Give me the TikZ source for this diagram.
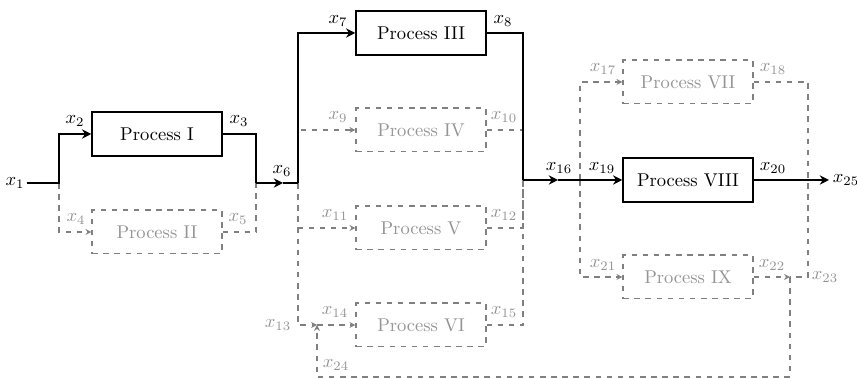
\documentclass[tikz,border=0pt]{standalone}
\usetikzlibrary{arrows.meta}
\begin{document}
\begin{tikzpicture}[x=0.54pt,y=-0.54pt,
  proc/.style={draw, line width=1pt, minimum width=70pt, minimum height=23.5pt, inner sep=0pt},
  gproc/.style={draw=gray, dashed, thick, text=black!42, minimum width=70pt, minimum height=23.5pt, inner sep=0pt},
  main/.style={line width=1.1pt},
  aux/.style={gray, dashed, thick},
  marr/.style={-{Stealth[length=5pt,width=5pt]}},
  garr/.style={-{Stealth[length=3.2pt,width=3.2pt]}},
  lab/.style={inner sep=1pt},
  glab/.style={inner sep=1pt, text=black!42}]
\useasboundingbox (0,0) rectangle (857,378);

% process boxes
\node[proc]  (P1) at (157,134) {Process I};
\node[gproc] (P2) at (157,232) {Process II};
\node[proc]  (P3) at (421,33)  {Process III};
\node[gproc] (P4) at (421,130) {Process IV};
\node[gproc] (P5) at (421,228) {Process V};
\node[gproc] (P6) at (421,325) {Process VI};
\node[gproc] (P7) at (688,82)  {Process VII};
\node[proc]  (P8) at (688,180) {Process VIII};
\node[gproc] (P9) at (688,277) {Process IX};

% labels
\node[lab]  (x1)  at (15,183)  {$x_1$};
\node[lab]  (x2)  at (75,121)  {$x_2$};
\node[lab]  (x3)  at (239,121) {$x_3$};
\node[glab] (x4)  at (76,219)  {$x_4$};
\node[glab] (x5)  at (238,219) {$x_5$};
\node[lab]  (x6)  at (282,171) {$x_6$};
\node[lab]  (x7)  at (338,21)  {$x_7$};
\node[lab]  (x8)  at (503,21)  {$x_8$};
\node[glab] (x9)  at (338,117) {$x_9$};
\node[glab] (x10) at (504,117) {$x_{10}$};
\node[glab] (x11) at (335,215) {$x_{11}$};
\node[glab] (x12) at (504,215) {$x_{12}$};
\node[glab] (x13) at (278,325) {$x_{13}$};
\node[glab] (x14) at (335,312) {$x_{14}$};
\node[glab] (x15) at (504,312) {$x_{15}$};
\node[lab]  (x16) at (559,168) {$x_{16}$};
\node[glab] (x17) at (603,69)  {$x_{17}$};
\node[glab] (x18) at (773,69)  {$x_{18}$};
\node[lab]  (x19) at (602,168) {$x_{19}$};
\node[lab]  (x20) at (773,168) {$x_{20}$};
\node[glab] (x21) at (603,265) {$x_{21}$};
\node[glab] (x22) at (772,265) {$x_{22}$};
\node[glab] (x23) at (825,277) {$x_{23}$};
\node[glab] (x24) at (336,365) {$x_{24}$};
\node[lab]  (x25) at (846,180) {$x_{25}$};

% junction coordinates
\coordinate (s1)  at (59,183);
\coordinate (m1)  at (256,183);
\coordinate (c6)  at (283,183);
\coordinate (s2)  at (298,183);
\coordinate (c13) at (317,325);
\coordinate (m2)  at (523,180);
\coordinate (c16) at (558,180);
\coordinate (s3)  at (580,180);
\coordinate (c23) at (808,277);
\coordinate (j22) at (790,277);
\coordinate (b1)  at (790,377);
\coordinate (c25) at (829,180);

% auxiliary (dashed) paths
\draw[aux,garr] (s1) |- (P2.west);
\draw[aux] (P2.east) -| (m1);
\draw[aux,garr] (s2) |- (P4.west);
\draw[aux,garr] (s2) |- (P5.west);
\draw[aux,garr] (s2) |- (c13);
\draw[aux,garr] (c13) -- (P6.west);
\draw[aux] (P4.east) -| (m2);
\draw[aux] (P5.east) -| (m2);
\draw[aux] (P6.east) -| (m2);
\draw[aux,garr] (s3) |- (P7.west);
\draw[aux,garr] (s3) |- (P9.west);
\draw[aux] (P7.east) -| (c23) -- (j22);
\draw[aux,garr] (P9.east) -- (j22);
\draw[aux,garr] (j22) -- (b1) -| (c13);

% main (solid) path
\draw[main,marr] (x1.east) -- (s1) |- (P1.west);
\draw[main] (P1.east) -| (m1);
\draw[main,marr] (m1) -- (c6);
\draw[main] (c6) -- (s2);
\draw[main,marr] (s2) |- (P3.west);
\draw[main] (P3.east) -| (m2);
\draw[main,marr] (m2) -- (c16);
\draw[main,marr] (c16) -- (P8.west);
\draw[main,marr] (P8.east) -- (c25);
\end{tikzpicture}
\end{document}
